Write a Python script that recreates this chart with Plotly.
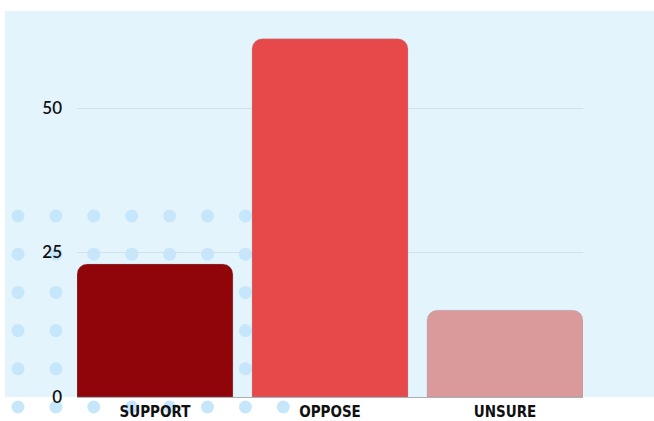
import plotly.graph_objects as go

categories = ['SUPPORT', 'OPPOSE', 'UNSURE']
values = [23, 62, 15]
colors = ['#8f0509', '#e7494b', '#da999b']
y_ticks = [0, 25, 50]

W, H = 654, 421
L, R, T, B = 77, 71, 11, 24
pw, ph = W - L - R, H - T - B


def px(x):
    return (x - L) / pw


def py(y):
    return (H - B - y) / ph


shapes = [dict(type='rect', xref='paper', yref='paper', layer='below',
               x0=px(5), x1=px(654), y0=py(397), y1=py(11),
               fillcolor='#e3f4fd', line=dict(width=0))]

# dot pattern behind the bars
for row in range(6):
    for col in range(8):
        cx = 18 + col * 37.9
        cy = 216 + row * 38.2
        shapes.append(dict(type='circle', xref='paper', yref='paper', layer='below',
                           x0=px(cx - 6.5), x1=px(cx + 6.5),
                           y0=py(cy + 6.5), y1=py(cy - 6.5),
                           fillcolor='#c6e6fb', line=dict(width=0)))

fig = go.Figure(go.Bar(
    x=categories, y=values,
    marker=dict(color=colors, cornerradius=10,
                line=dict(color='rgba(150,160,170,0.5)', width=0.6)),
    hoverinfo='x+y',
))

fig.update_layout(
    width=W, height=H,
    margin=dict(l=L, r=R, t=T, b=B, autoexpand=False),
    paper_bgcolor='white',
    plot_bgcolor='rgba(0,0,0,0)',
    bargap=0.109,
    showlegend=False,
    shapes=shapes,
    font=dict(family='Lato, sans-serif', color='#000000'),
)
fig.update_xaxes(
    range=[-0.4455, 2.4455], automargin=False,
    showgrid=False, showline=True, linecolor='#a9b0b5', linewidth=1,
    ticks='', tickfont=dict(family='DejaVu Sans Condensed, sans-serif',
                            size=15, color='#111111', weight='bold'),
    ticklabelstandoff=1,
)
fig.update_yaxes(
    range=[0, 66.8], tickvals=y_ticks, automargin=False,
    showgrid=True, gridcolor='#cfe2ec', gridwidth=1,
    zeroline=False, showline=False, ticks='',
    tickfont=dict(family='Lato, sans-serif', size=17, color='#111111', weight=600),
    ticklabelstandoff=14,
)

fig.write_html('out.html', config={'displayModeBar': False},
               post_script="document.body.style.margin='0';")
